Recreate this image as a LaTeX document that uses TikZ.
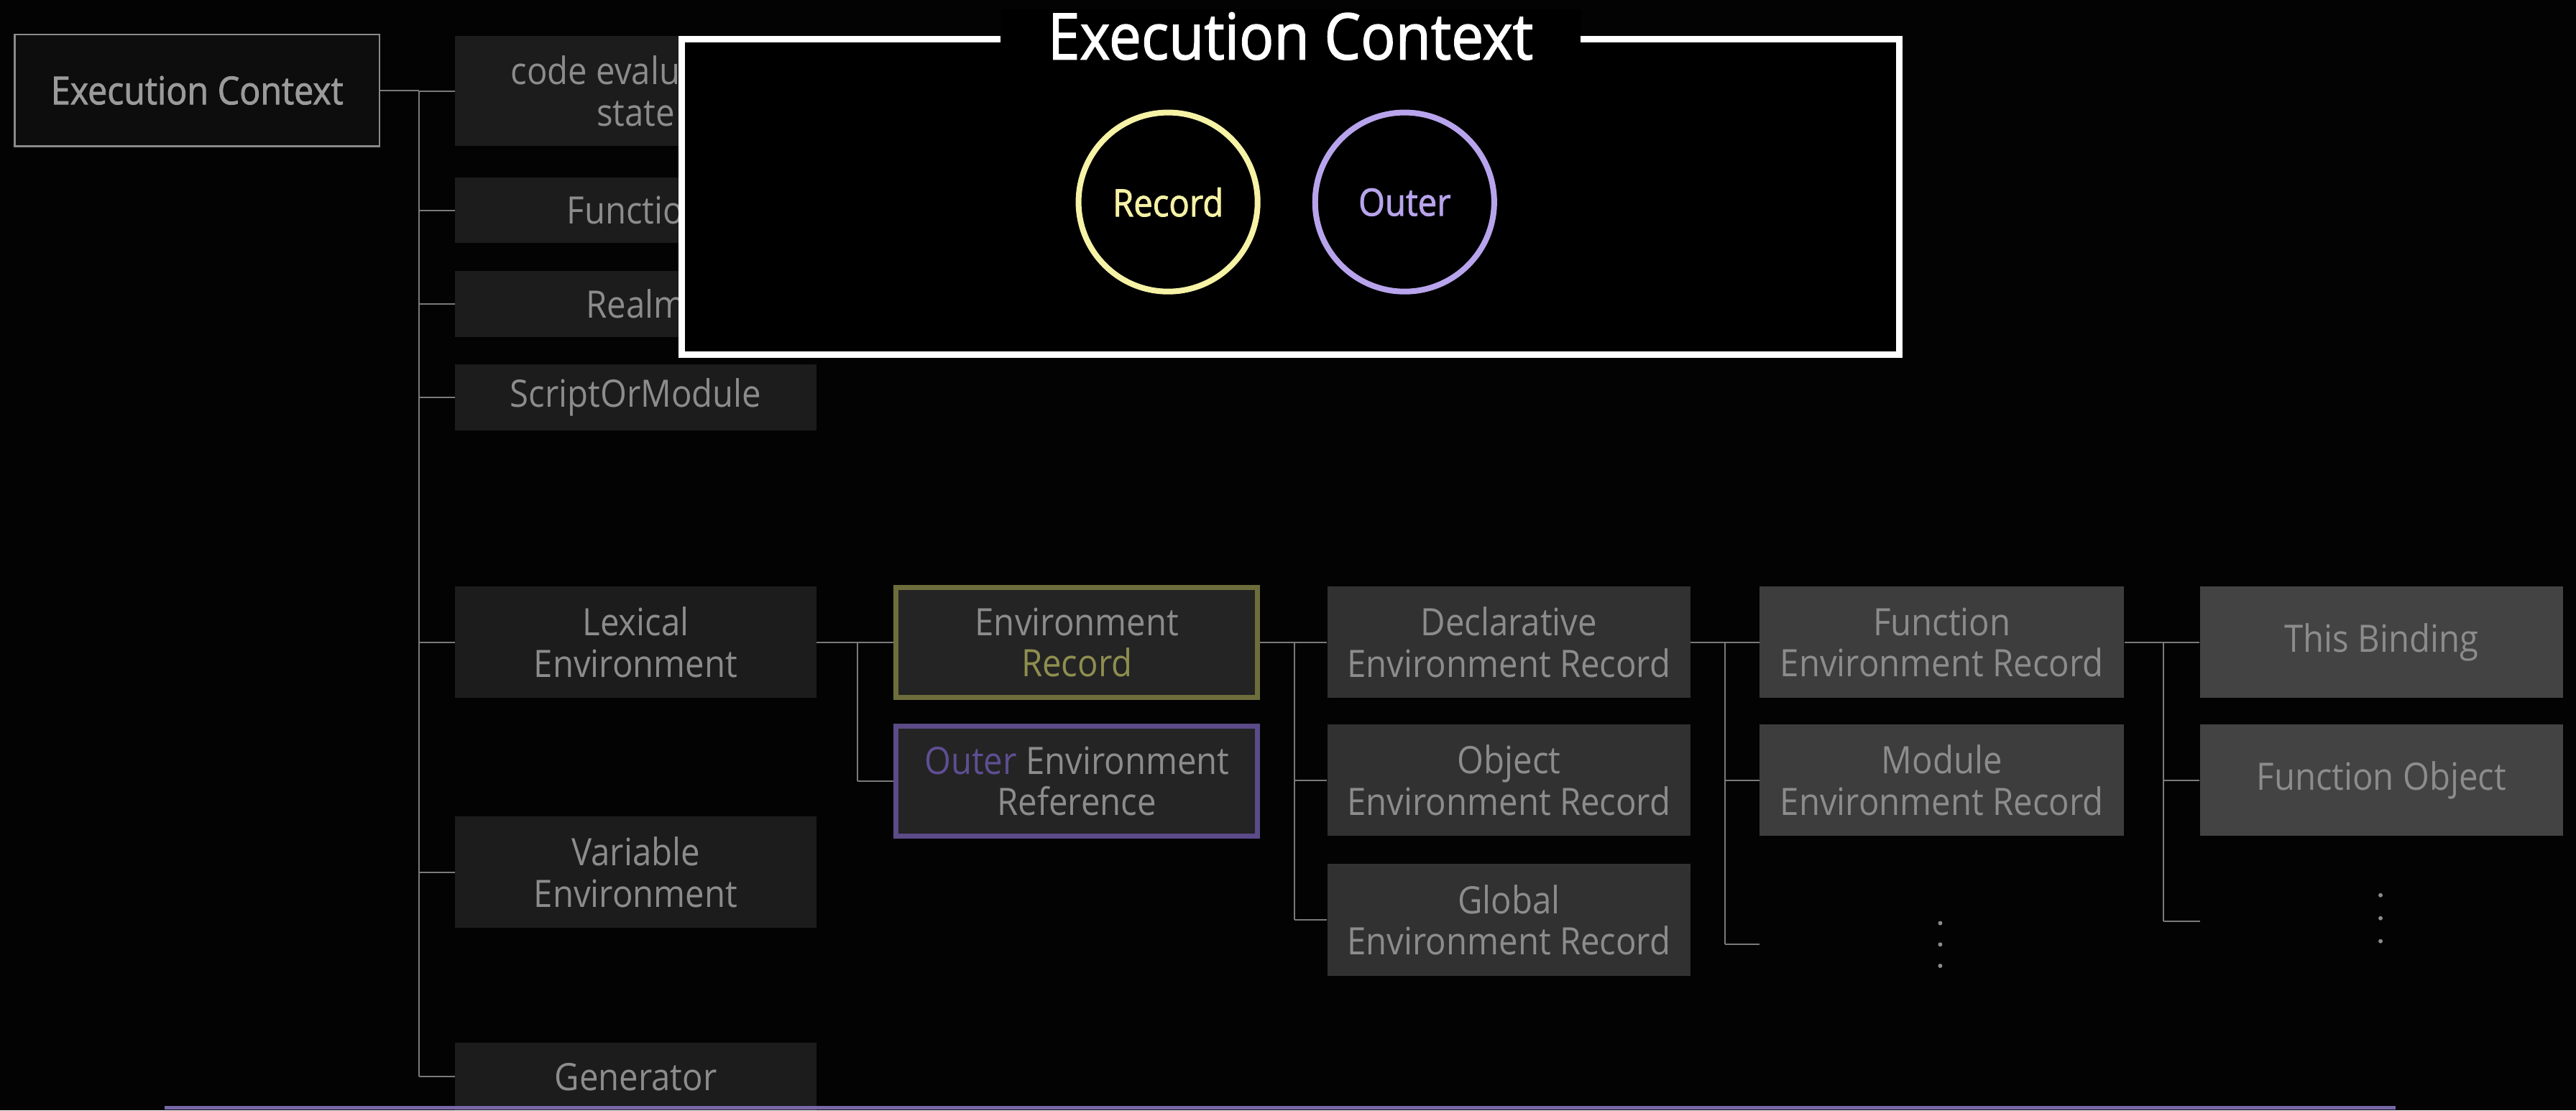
\documentclass[tikz,border=0pt]{standalone}
\usepackage{fontspec}
\newfontfamily\comic[FakeStretch=0.9]{Open Sans}
\newfontfamily\comicb[FakeStretch=0.9,FakeBold=1.6]{Open Sans}
\definecolor{bgc}{HTML}{030303}
\definecolor{ecborder}{HTML}{8A8A8A}
\definecolor{ecfill}{HTML}{0D0D0D}
\definecolor{ectext}{HTML}{9A9A9A}
\definecolor{lfill}{HTML}{1C1C1C}
\definecolor{gtext}{HTML}{8C8C8C}
\definecolor{mfill}{HTML}{242424}
\definecolor{olive}{HTML}{6E6E3C}
\definecolor{olivetext}{HTML}{8E8E50}
\definecolor{dpurple}{HTML}{5B4B88}
\definecolor{dpurpletext}{HTML}{5F4E92}
\definecolor{cfill}{HTML}{313131}
\definecolor{dfill}{HTML}{3D3D3D}
\definecolor{efill}{HTML}{434343}
\definecolor{connc}{HTML}{7A7A7A}
\definecolor{recy}{HTML}{F6F2A6}
\definecolor{outp}{HTML}{B8A4EC}
\definecolor{bline}{HTML}{7868A8}
\tikzset{
  boxtxt/.style={font=\comic\fontsize{23}{25}\selectfont, text=gtext, align=center, inner sep=0pt},
  lbox/.style={boxtxt, fill=lfill, minimum width=220pt},
  mbox/.style={boxtxt, fill=mfill, minimum width=220pt, minimum height=67pt, line width=3pt},
  cbox/.style={boxtxt, fill=cfill, minimum width=221pt, minimum height=68pt},
  dbox/.style={boxtxt, fill=dfill, minimum width=222pt, minimum height=68pt},
  ebox/.style={boxtxt, fill=efill, minimum width=221pt, minimum height=68pt},
  conn/.style={draw=connc, line width=0.9pt},
  dotc/.style={fill=gtext},
  ring/.style={circle, line width=3.5pt, minimum size=109pt, inner sep=0pt, font=\comicb\fontsize{23}{25}\selectfont},
}
\begin{document}
\begin{tikzpicture}[x=1pt,y=-1pt]
\fill[bgc] (0,0) rectangle (1568,676);
\useasboundingbox (0,0) rectangle (1568,676);

% root
\node[draw=ecborder, line width=1.2pt, fill=ecfill, minimum width=222pt, minimum height=68pt,
      font=\comicb\fontsize{23.5}{26}\selectfont, text=ectext, inner sep=0pt] (ec) at (120,55) {Execution Context};

% left column
\node[lbox, minimum height=67pt] (cev) at (387,55.5) {code evaluation\\state};
\node[lbox, minimum height=40pt] (fun) at (387,128) {Function};
\node[lbox, minimum height=40pt] (realm) at (387,185) {Realm};
\node[lbox, minimum height=40pt] (som) at (387,242) {ScriptOrModule};
\node[lbox, minimum height=68pt] (lex) at (387,391) {Lexical\\Environment};
\node[lbox, minimum height=68pt] (var) at (387,531) {Variable\\Environment};
\node[lbox, minimum height=41pt] (gen) at (387,655.5) {Generator};

% second column
\node[mbox, draw=olive] (er) at (655.5,391) {Environment\\\textcolor{olivetext}{Record}};
\node[mbox, draw=dpurple] (oer) at (655.5,475.5) {\textcolor{dpurpletext}{Outer} Environment\\Reference};

% third column
\node[cbox] (decl) at (918.5,391) {Declarative\\Environment Record};
\node[cbox] (obj) at (918.5,475) {Object\\Environment Record};
\node[cbox] (glob) at (918.5,560) {Global\\Environment Record};

% fourth column
\node[dbox] (fer) at (1182,391) {Function\\Environment Record};
\node[dbox] (mer) at (1182,475) {Module\\Environment Record};
\coordinate (fdots) at (1071,575);
\fill[dotc] (1181,562) circle (1.3pt) (1181,575) circle (1.3pt) (1181,588) circle (1.3pt);

% fifth column
\node[ebox] (tb) at (1449.5,391) {This Binding};
\node[ebox] (fo) at (1449.5,475) {Function Object};
\coordinate (edots) at (1339,561);
\fill[dotc] (1449,545) circle (1.3pt) (1449,559) circle (1.3pt) (1449,573) circle (1.3pt);

% connectors: root
\coordinate (t0) at (255,55);
\draw[conn] (ec.east) -- (t0);
\draw[conn] (t0) -- (t0 |- gen.west);
\foreach \n in {cev,fun,realm,som,lex,var,gen}
  \draw[conn] (t0 |- \n.west) -- (\n.west);

% lexical
\coordinate (t1) at (522,391);
\draw[conn] (lex.east) -- (t1) -- (t1 |- oer.west);
\foreach \n in {er,oer}
  \draw[conn] (t1 |- \n.west) -- (\n.west);

% environment record
\coordinate (t2) at (788,391);
\draw[conn] (er.east) -- (t2) -- (t2 |- glob.west);
\foreach \n in {decl,obj,glob}
  \draw[conn] (t2 |- \n.west) -- (\n.west);

% declarative
\coordinate (t3) at (1050,391);
\draw[conn] (decl.east) -- (t3) -- (t3 |- fdots);
\foreach \n in {fer,mer}
  \draw[conn] (t3 |- \n.west) -- (\n.west);
\draw[conn] (t3 |- fdots) -- (fdots);

% function env record
\coordinate (t4) at (1317,391);
\draw[conn] (fer.east) -- (t4) -- (t4 |- edots);
\foreach \n in {tb,fo}
  \draw[conn] (t4 |- \n.west) -- (\n.west);
\draw[conn] (t4 |- edots) -- (edots);

% overlay panel
\node[draw=white, line width=4pt, fill=black, minimum width=741pt, minimum height=192pt, inner sep=0pt] (ov) at (785.5,120) {};
\node[fill=black, inner xsep=29pt, inner ysep=2pt, text=white, font=\comicb\fontsize{39}{42}\selectfont] (title) at (785.5,22) {Execution Context};
\node[ring, draw=recy, text=recy, text depth=-3pt] (rec) at (711,123) {Record};
\node[ring, draw=outp, text=outp, text depth=-3pt] (out) at (855,123) {Outer};

% bottom line
\draw[bline, line width=2pt] (100,674.5) -- (1458,674.5);
\end{tikzpicture}
\end{document}
